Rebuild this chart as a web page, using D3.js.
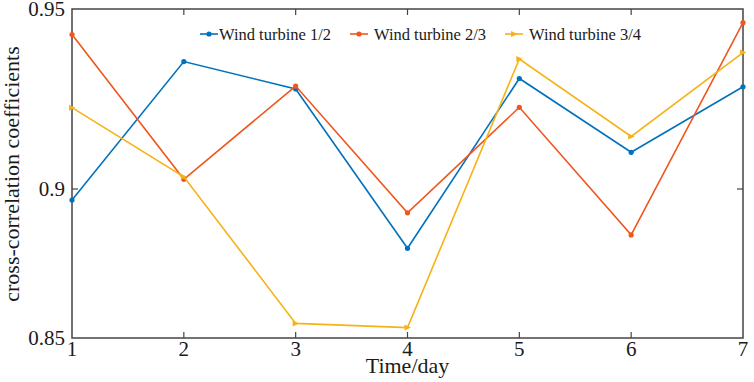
<!DOCTYPE html>
<html>
<head>
  <meta charset="utf-8">
  <script src="https://d3js.org/d3.v7.min.js"></script>
  <style>
    body { margin: 0; background: #fff; }
    text { font-family: "Liberation Serif", "Times New Roman", serif; fill: #1a1a1a; }
  </style>
</head>
<body>
<div id="chart"></div>
<script>
  const days = [1, 2, 3, 4, 5, 6, 7];
  const yTicks = [0.85, 0.9, 0.95];
  const seriesNames = ["Wind turbine 1/2", "Wind turbine 2/3", "Wind turbine 3/4"];
  const turbine12 = [0.8963, 0.9354, 0.9278, 0.8801, 0.9307, 0.9102, 0.9284];
  const turbine23 = [0.9429, 0.9027, 0.9286, 0.8920, 0.9227, 0.8846, 0.9462];
  const turbine34 = [0.9226, 0.9034, 0.8549, 0.8535, 0.9361, 0.9146, 0.9379];
  const colors = ["#0072BD", "#F0561E", "#F6B216"];

  const width = 754, height = 382;
  const plotL = 72, plotR = 743, plotT = 9, plotB = 338;

  const svg = d3.select("#chart").append("svg")
    .attr("width", width)
    .attr("height", height);

  const x = d3.scaleLinear().domain([1, 7]).range([plotL, plotR]);
  // the original axis is not evenly spaced, 0.9 sits below the middle
  const y = d3.scaleLinear().domain([0.85, 0.9, 0.95]).range([plotB, 189, plotT]);

  const axisColor = "#444";

  // frame
  svg.append("rect")
    .attr("x", plotL).attr("y", plotT)
    .attr("width", plotR - plotL).attr("height", plotB - plotT)
    .attr("fill", "none").attr("stroke", axisColor).attr("stroke-width", 1.5);

  // inward ticks
  const inner = days.slice(1, -1);
  svg.append("g").selectAll("line").data(inner).enter().append("line")
    .attr("x1", d => x(d)).attr("x2", d => x(d))
    .attr("y1", plotB).attr("y2", plotB - 6)
    .attr("stroke", axisColor).attr("stroke-width", 1.2);
  svg.append("g").selectAll("line").data(inner).enter().append("line")
    .attr("x1", d => x(d)).attr("x2", d => x(d))
    .attr("y1", plotT).attr("y2", plotT + 6)
    .attr("stroke", axisColor).attr("stroke-width", 1.2);
  const midY = yTicks.slice(1, -1);
  svg.append("g").selectAll("line").data(midY).enter().append("line")
    .attr("x1", plotL).attr("x2", plotL + 6)
    .attr("y1", d => y(d)).attr("y2", d => y(d))
    .attr("stroke", axisColor).attr("stroke-width", 1.2);
  svg.append("g").selectAll("line").data(midY).enter().append("line")
    .attr("x1", plotR).attr("x2", plotR - 6)
    .attr("y1", d => y(d)).attr("y2", d => y(d))
    .attr("stroke", axisColor).attr("stroke-width", 1.2);

  // tick labels
  svg.append("g").selectAll("text").data(days).enter().append("text")
    .attr("x", d => x(d)).attr("y", 356)
    .attr("text-anchor", "middle").attr("font-size", 21)
    .text(d => d);
  svg.append("g").selectAll("text").data(yTicks).enter().append("text")
    .attr("x", 65).attr("y", d => y(d) + 7)
    .attr("text-anchor", "end").attr("font-size", 21)
    .text(d => d3.format("")(d));

  // axis titles
  svg.append("text")
    .attr("x", (plotL + plotR) / 2).attr("y", 373)
    .attr("text-anchor", "middle").attr("font-size", 22)
    .text("Time/day");
  svg.append("text")
    .attr("transform", "translate(19,174) rotate(-90)")
    .attr("text-anchor", "middle").attr("font-size", 22)
    .text("cross-correlation coefficients");

  // series
  const all = [turbine12, turbine23, turbine34];
  const line = d3.line().x((d, i) => x(days[i])).y(d => y(d));
  const triangle = "M-3,-3L3.5,0L-3,3Z";

  all.forEach((vals, k) => {
    svg.append("path")
      .datum(vals)
      .attr("fill", "none")
      .attr("stroke", colors[k])
      .attr("stroke-width", 1.6)
      .attr("d", line);
    const g = svg.append("g");
    if (k === 2) {
      g.selectAll("path").data(vals).enter().append("path")
        .attr("d", triangle)
        .attr("transform", (d, i) => `translate(${x(days[i])},${y(d)})`)
        .attr("fill", colors[k]);
    } else {
      g.selectAll("circle").data(vals).enter().append("circle")
        .attr("cx", (d, i) => x(days[i])).attr("cy", d => y(d))
        .attr("r", 2.6).attr("fill", colors[k]);
    }
  });

  // legend
  const legendX = [200, 350, 505];
  const legend = svg.append("g");
  seriesNames.forEach((name, k) => {
    const lx = legendX[k], ly = 34;
    legend.append("line")
      .attr("x1", lx).attr("x2", lx + 18)
      .attr("y1", ly).attr("y2", ly)
      .attr("stroke", colors[k]).attr("stroke-width", 1.6);
    if (k === 2) {
      legend.append("path").attr("d", triangle)
        .attr("transform", `translate(${lx + 9},${ly})`)
        .attr("fill", colors[k]);
    } else {
      legend.append("circle").attr("cx", lx + 9).attr("cy", ly)
        .attr("r", 2.6).attr("fill", colors[k]);
    }
    legend.append("text")
      .attr("x", lx + (k === 0 ? 19 : 24)).attr("y", ly + 5.5)
      .attr("font-size", 16.5)
      .text(name);
  });
</script>
</body>
</html>
